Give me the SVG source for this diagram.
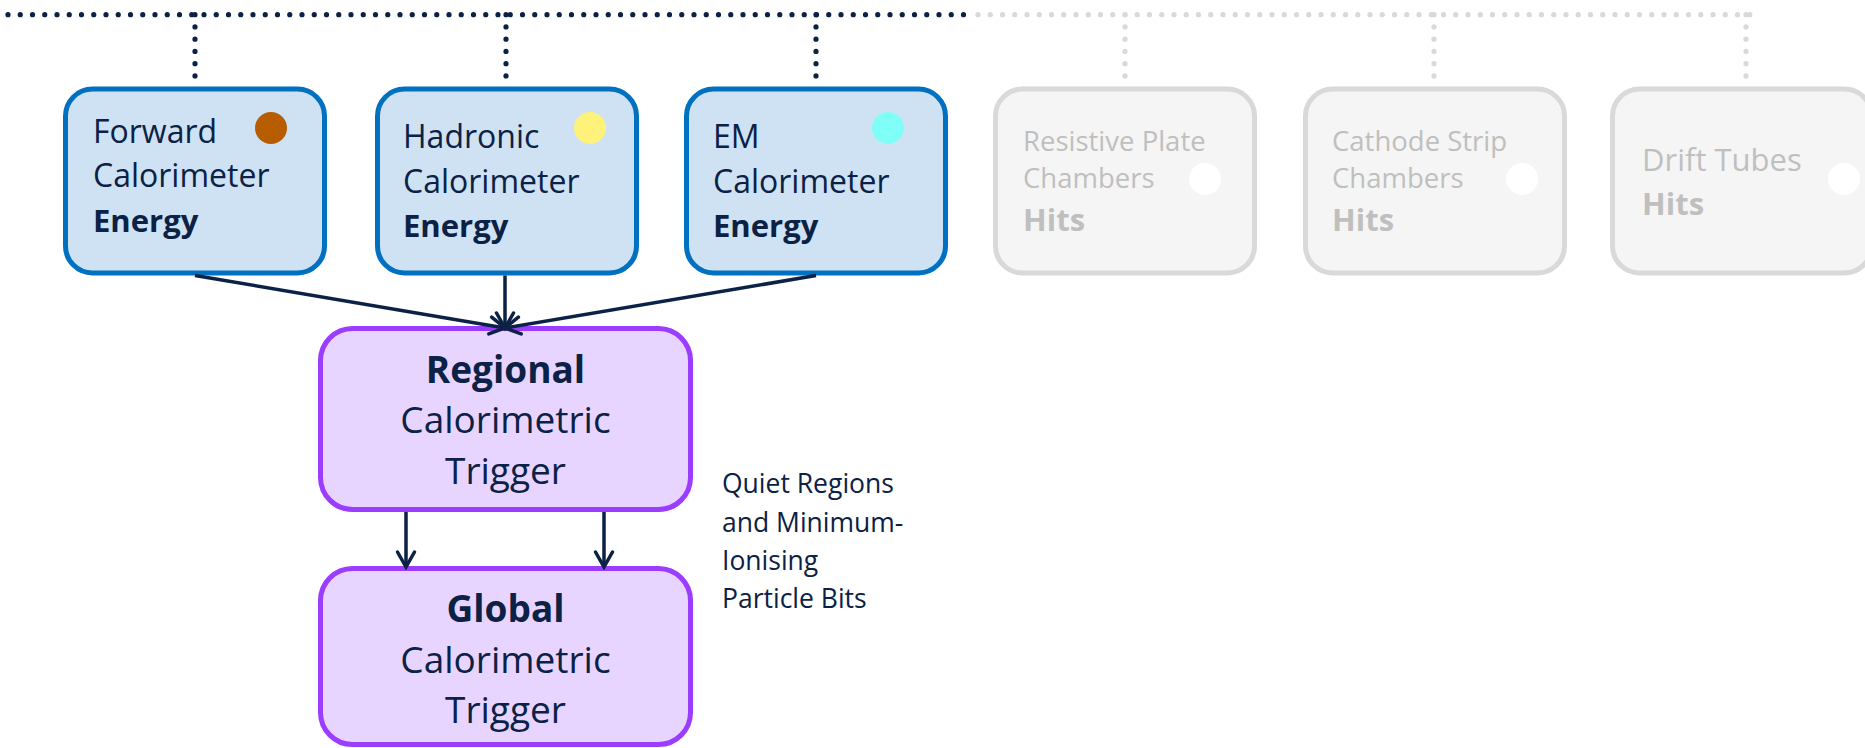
<svg xmlns="http://www.w3.org/2000/svg" width="1865" height="748" viewBox="0 0 1865 748">
<style>
text{font-family:"Open Sans","Noto Sans","Liberation Sans",sans-serif;}
.det{fill:#CFE2F3;stroke:#0070C0;stroke-width:5;}
.off{fill:#F5F5F5;stroke:#D9D9D9;stroke-width:5;}
.trg{fill:#E8D5FF;stroke:#9B3DFF;stroke-width:5;}
.t{fill:#0B2145;font-size:32px;}
.tb{fill:#0B2145;font-size:31px;font-weight:bold;}
.g{fill:#BFBFBF;font-size:27.5px;}
.gb{fill:#BFBFBF;font-size:31px;font-weight:bold;}
.big{fill:#0B2145;font-size:37px;text-anchor:middle;}
.bigb{fill:#0B2145;font-size:37px;font-weight:bold;text-anchor:middle;}
.lbl{fill:#0B2145;font-size:26.5px;}
.dd{stroke:#0B2145;stroke-width:5.2;stroke-linecap:round;stroke-dasharray:0 12.25;fill:none;}
.gd{stroke:#D9D9D9;stroke-width:5.2;stroke-linecap:round;stroke-dasharray:0 12.25;fill:none;}
.c{stroke:#0B2145;stroke-width:3.5;fill:none;marker-end:url(#arr);}
</style>
<defs>
<marker id="arr" markerWidth="22" markerHeight="22" refX="17" refY="11" orient="auto" markerUnits="userSpaceOnUse" overflow="visible">
<path d="M2,2.5 L17,11 L2,19.5" fill="none" stroke="#0B2145" stroke-width="3.5" stroke-linecap="round" stroke-linejoin="miter"/>
</marker>
</defs>

<g id="bus">
<line class="dd" x1="8" y1="14.7" x2="968" y2="14.7"/>
<line class="gd" x1="978" y1="14.7" x2="1756" y2="14.7"/>
<line class="dd" x1="195" y1="14.7" x2="195" y2="88"/>
<line class="dd" x1="506" y1="14.7" x2="506" y2="88"/>
<line class="dd" x1="816" y1="14.7" x2="816" y2="88"/>
<line class="gd" x1="1125" y1="14.7" x2="1125" y2="88"/>
<line class="gd" x1="1434" y1="14.7" x2="1434" y2="88"/>
<line class="gd" x1="1746" y1="14.7" x2="1746" y2="88"/>
</g>

<g id="forward">
<rect class="det" x="65.5" y="89" width="259" height="184" rx="27"/>
<circle cx="271" cy="128" r="16" fill="#B85C00"/>
<text class="t" x="93" y="143">Forward</text>
<text class="t" x="93" y="187">Calorimeter</text>
<text class="tb" x="93" y="232">Energy</text>
</g>

<g id="hadronic">
<rect class="det" x="377.5" y="89" width="259" height="184" rx="27"/>
<circle cx="590" cy="128" r="16" fill="#FFF27A"/>
<text class="t" x="403" y="148">Hadronic</text>
<text class="t" x="403" y="193">Calorimeter</text>
<text class="tb" x="403" y="237">Energy</text>
</g>

<g id="em">
<rect class="det" x="686.5" y="89" width="259" height="184" rx="27"/>
<circle cx="888" cy="128" r="16" fill="#7FFFF5"/>
<text class="t" x="713" y="148">EM</text>
<text class="t" x="713" y="193">Calorimeter</text>
<text class="tb" x="713" y="237">Energy</text>
</g>

<g id="rpc">
<rect class="off" x="995.5" y="89" width="259" height="184" rx="27"/>
<circle cx="1205" cy="179" r="16" fill="#FFFFFF"/>
<text class="g" x="1023" y="151">Resistive Plate</text>
<text class="g" x="1023" y="188">Chambers</text>
<text class="gb" x="1023" y="231">Hits</text>
</g>

<g id="csc">
<rect class="off" x="1305.5" y="89" width="259" height="184" rx="27"/>
<circle cx="1522" cy="179" r="16" fill="#FFFFFF"/>
<text class="g" x="1332" y="151">Cathode Strip</text>
<text class="g" x="1332" y="188">Chambers</text>
<text class="gb" x="1332" y="231">Hits</text>
</g>

<g id="dt">
<rect class="off" x="1612.5" y="89" width="259" height="184" rx="27"/>
<circle cx="1844" cy="179" r="16" fill="#FFFFFF"/>
<text class="g" x="1642" y="170.5" style="font-size:31px">Drift Tubes</text>
<text class="gb" x="1642" y="215">Hits</text>
</g>

<g id="rct">
<rect class="trg" x="320.5" y="328.5" width="370" height="181" rx="32"/>
<text class="bigb" x="505.5" y="383">Regional</text>
<text class="big" x="505.5" y="433">Calorimetric</text>
<text class="big" x="505.5" y="484">Trigger</text>
</g>

<g id="gct">
<rect class="trg" x="320.5" y="568.5" width="370" height="176" rx="32"/>
<text class="bigb" x="505.5" y="622">Global</text>
<text class="big" x="505.5" y="673">Calorimetric</text>
<text class="big" x="505.5" y="723">Trigger</text>
</g>

<g id="connectors">
<line class="c" x1="195" y1="275.5" x2="505" y2="328"/>
<line class="c" x1="505" y1="275.5" x2="505" y2="328"/>
<line class="c" x1="816" y1="275.5" x2="505" y2="328"/>
<line class="c" x1="406" y1="512" x2="406" y2="567"/>
<line class="c" x1="604" y1="512" x2="604" y2="567"/>
</g>

<g id="label">
<text class="lbl" x="722" y="493">Quiet Regions</text>
<text class="lbl" x="722" y="532">and Minimum-</text>
<text class="lbl" x="722" y="570">Ionising</text>
<text class="lbl" x="722" y="608">Particle Bits</text>
</g>
</svg>
